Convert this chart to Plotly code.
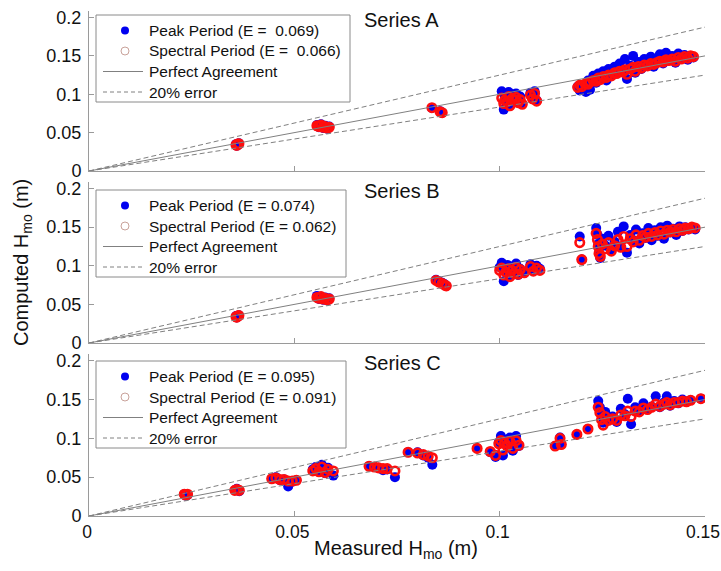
import plotly.graph_objects as go

# ---- Series A: measured vs computed significant wave height (m) ----
a_measured = [0.0358, 0.0362, 0.0365, 0.0360,
              0.0555, 0.0560, 0.0565, 0.0570, 0.0575, 0.0580, 0.0585,
              0.0835, 0.0855, 0.0860,
              0.1005, 0.1010, 0.1012, 0.1018, 0.1022, 0.1025, 0.1030, 0.1035,
              0.1040, 0.1045, 0.1050, 0.1055, 0.1075, 0.1080, 0.1085, 0.1090,
              0.1190, 0.1195, 0.1200, 0.1210, 0.1215, 0.1220, 0.1228, 0.1235,
              0.1240, 0.1245, 0.1252, 0.1260, 0.1265, 0.1272, 0.1280, 0.1285,
              0.1292, 0.1300, 0.1305, 0.1310, 0.1318, 0.1325, 0.1330, 0.1338,
              0.1345, 0.1352, 0.1360, 0.1368, 0.1375, 0.1382, 0.1390, 0.1398,
              0.1405, 0.1412, 0.1420, 0.1428, 0.1435, 0.1442, 0.1450, 0.1458,
              0.1465, 0.1472]
a_peak = [0.035, 0.034, 0.036, 0.033,
          0.060, 0.057, 0.061, 0.056, 0.059, 0.055, 0.058,
          0.082, 0.078, 0.076,
          0.104, 0.080, 0.098, 0.092, 0.103, 0.086, 0.100, 0.095,
          0.101, 0.090, 0.097, 0.088, 0.102, 0.095, 0.104, 0.092,
          0.110, 0.105, 0.112, 0.103, 0.118, 0.106, 0.124, 0.115,
          0.127, 0.121, 0.130, 0.118, 0.133, 0.125, 0.136, 0.128,
          0.140, 0.131, 0.146, 0.120, 0.137, 0.150, 0.128, 0.142,
          0.133, 0.146, 0.138, 0.149, 0.136, 0.145, 0.152, 0.140,
          0.154, 0.144, 0.150, 0.141, 0.153, 0.147, 0.151, 0.145,
          0.150, 0.148]
a_spectral = [0.034, 0.035, 0.0355, 0.0335,
              0.059, 0.058, 0.060, 0.057, 0.058, 0.056, 0.057,
              0.0825, 0.077, 0.076,
              0.095, 0.088, 0.092, 0.090, 0.097, 0.085, 0.094, 0.093,
              0.096, 0.089, 0.093, 0.087, 0.099, 0.094, 0.101, 0.091,
              0.109, 0.112, 0.110, 0.114, 0.113, 0.116, 0.118, 0.117,
              0.121, 0.119, 0.123, 0.122, 0.125, 0.124, 0.128, 0.127,
              0.130, 0.129, 0.132, 0.126, 0.133, 0.135, 0.130, 0.136,
              0.134, 0.138, 0.137, 0.140, 0.139, 0.141, 0.143, 0.142,
              0.145, 0.144, 0.146, 0.143, 0.148, 0.146, 0.149, 0.147,
              0.150, 0.149]

# ---- Series B ----
b_measured = [0.0358, 0.0362, 0.0365, 0.0360,
              0.0555, 0.0560, 0.0565, 0.0570, 0.0575, 0.0580, 0.0585,
              0.0845, 0.0852, 0.0860, 0.0866, 0.0870,
              0.1000, 0.1005, 0.1010, 0.1015, 0.1020, 0.1025, 0.1030, 0.1035,
              0.1040, 0.1045, 0.1050, 0.1060, 0.1075, 0.1082, 0.1090, 0.1098,
              0.1195, 0.1200, 0.1235, 0.1238, 0.1240, 0.1242, 0.1245, 0.1250,
              0.1258, 0.1265, 0.1272, 0.1280, 0.1288, 0.1295, 0.1302, 0.1310,
              0.1318, 0.1325, 0.1332, 0.1340, 0.1348, 0.1355, 0.1362, 0.1370,
              0.1378, 0.1385, 0.1392, 0.1400, 0.1408, 0.1415, 0.1422, 0.1430,
              0.1438, 0.1445, 0.1452, 0.1460, 0.1468, 0.1476]
b_peak = [0.035, 0.034, 0.036, 0.033,
          0.061, 0.057, 0.060, 0.056, 0.059, 0.055, 0.058,
          0.082, 0.080, 0.078, 0.076, 0.074,
          0.098, 0.104, 0.080, 0.093, 0.101, 0.087, 0.097, 0.091,
          0.103, 0.088, 0.096, 0.092, 0.102, 0.094, 0.100, 0.096,
          0.138, 0.108, 0.149, 0.140, 0.128, 0.117, 0.110, 0.135,
          0.126, 0.139, 0.121, 0.131, 0.144, 0.124, 0.151, 0.117,
          0.140, 0.133, 0.147, 0.129, 0.142, 0.136, 0.149, 0.133,
          0.146, 0.139, 0.150, 0.135, 0.152, 0.143, 0.148, 0.140,
          0.151, 0.145, 0.150, 0.147, 0.149, 0.147]
b_spectral = [0.034, 0.035, 0.0355, 0.0335,
              0.059, 0.058, 0.060, 0.057, 0.058, 0.056, 0.057,
              0.081, 0.079, 0.077, 0.075, 0.074,
              0.094, 0.097, 0.088, 0.092, 0.096, 0.086, 0.094, 0.090,
              0.098, 0.089, 0.095, 0.091, 0.099, 0.093, 0.097, 0.094,
              0.130, 0.108, 0.142, 0.134, 0.125, 0.116, 0.112, 0.128,
              0.122, 0.130, 0.119, 0.126, 0.134, 0.124, 0.138, 0.125,
              0.135, 0.131, 0.140, 0.133, 0.139, 0.137, 0.142, 0.138,
              0.143, 0.140, 0.145, 0.141, 0.146, 0.144, 0.147, 0.144,
              0.148, 0.146, 0.149, 0.148, 0.150, 0.149]

# ---- Series C ----
c_measured = [0.0232, 0.0236, 0.0240,
              0.0355, 0.0360, 0.0366,
              0.0445, 0.0455, 0.0465, 0.0475, 0.0485, 0.0495, 0.0505,
              0.0545, 0.0552, 0.0560, 0.0567, 0.0575, 0.0582, 0.0595,
              0.0682, 0.0695, 0.0705, 0.0716, 0.0726, 0.0745,
              0.0777, 0.0800, 0.0814, 0.0826, 0.0836,
              0.0945, 0.0977, 0.0990,
              0.0998, 0.1003, 0.1008, 0.1012, 0.1018, 0.1025, 0.1032, 0.1040, 0.1047,
              0.1135, 0.1147, 0.1150, 0.1188, 0.1215,
              0.1240, 0.1244, 0.1248, 0.1252, 0.1257, 0.1265, 0.1275, 0.1285,
              0.1295, 0.1305, 0.1312, 0.1320, 0.1330, 0.1340, 0.1350, 0.1360,
              0.1370, 0.1380, 0.1390, 0.1400, 0.1407, 0.1415, 0.1425, 0.1435,
              0.1445, 0.1455, 0.1465, 0.1490]
c_peak = [0.028, 0.026, 0.027,
          0.033, 0.035, 0.032,
          0.048, 0.050, 0.046, 0.047, 0.038, 0.044, 0.046,
          0.060, 0.063, 0.058, 0.066, 0.055, 0.062, 0.052,
          0.064, 0.063, 0.062, 0.059, 0.060, 0.050,
          0.082, 0.082, 0.078, 0.075, 0.066,
          0.087, 0.082, 0.076,
          0.095, 0.103, 0.078, 0.098, 0.090, 0.101, 0.084, 0.103, 0.090,
          0.090, 0.101, 0.092, 0.105, 0.112,
          0.148, 0.140, 0.130, 0.120, 0.134, 0.125, 0.128, 0.121,
          0.138, 0.131, 0.151, 0.118, 0.140, 0.135, 0.145, 0.137,
          0.141, 0.154, 0.140, 0.146, 0.154, 0.142, 0.148, 0.145,
          0.150, 0.147, 0.149, 0.151]
c_spectral = [0.028, 0.027, 0.028,
              0.033, 0.034, 0.033,
              0.048, 0.049, 0.047, 0.047, 0.045, 0.045, 0.046,
              0.058, 0.061, 0.057, 0.063, 0.056, 0.060, 0.058,
              0.064, 0.063, 0.062, 0.061, 0.061, 0.058,
              0.082, 0.081, 0.079, 0.077, 0.075,
              0.087, 0.083, 0.078,
              0.093, 0.097, 0.085, 0.094, 0.090, 0.096, 0.087, 0.097, 0.091,
              0.090, 0.100, 0.092, 0.105, 0.112,
              0.140, 0.133, 0.124, 0.117, 0.128, 0.123, 0.125, 0.123,
              0.130, 0.129, 0.135, 0.128, 0.135, 0.134, 0.139, 0.137,
              0.140, 0.144, 0.141, 0.144, 0.146, 0.143, 0.146, 0.146,
              0.148, 0.147, 0.149, 0.151]

panel_names = ["Series A", "Series B", "Series C"]
peak_labels = ["Peak Period (E =  0.069)", "Peak Period (E = 0.074)", "Peak Period (E = 0.095)"]
spectral_labels = ["Spectral Period (E =  0.066)", "Spectral Period (E = 0.062)",
                   "Spectral Period (E = 0.091)"]
line_labels = ["Perfect Agreement", "20% error"]

x_ticks = [0, 0.05, 0.1, 0.15]
x_ticktext = ["0", "0.05", "0.1", "0.15"]
y_ticks = [0, 0.05, 0.1, 0.15, 0.2]
y_ticktext = ["0", "0.05", "0.1", "0.15", "0.2"]
line_x = [0, 0.15]
error_frac = 0.2

panels = [(a_measured, a_peak, a_spectral),
          (b_measured, b_peak, b_spectral),
          (c_measured, c_peak, c_spectral)]

FONT = "Liberation Sans, Arial, sans-serif"
BLUE = "#0000f0"
RED = "#ff0d0d"
GREY_LINE = "#808080"
AXIS_GREY = "#9a9a9a"
TEXT = "#111111"

W, H = 721, 571
M_L, M_R, M_T, M_B = 89, 16, 11, 55
plot_w = W - M_L - M_R
plot_h = H - M_T - M_B
# panel pixel extents (top, bottom) in page coords
panel_px = [(11, 171), (182, 343), (354, 516)]
# legend box placement (left, top, right) in page pixels
legend_box = [(96, 15, 350), (96, 190, 346), (96, 361, 346)]
LEG_H, ROW0, ROW_STEP = 87, 15.5, 20.5


def px(pix):
    return (pix - M_L) / plot_w


def py(pix):
    return (H - M_B - pix) / plot_h


fig = go.Figure()
shapes, annotations = [], []

for i, (mx, pk, sp) in enumerate(panels):
    n = "" if i == 0 else str(i + 1)
    xa, ya = "x" + n, "y" + n

    fig.add_trace(go.Scatter(x=mx, y=pk, mode="markers", xaxis=xa, yaxis=ya,
                             name=peak_labels[i],
                             marker=dict(color=BLUE, size=10, line=dict(width=0))))
    fig.add_trace(go.Scatter(x=mx, y=sp, mode="markers", xaxis=xa, yaxis=ya,
                             name=spectral_labels[i],
                             marker=dict(symbol="circle-open", color=RED, size=8.5,
                                         line=dict(width=2.6))))
    fig.add_trace(go.Scatter(x=line_x, y=line_x, mode="lines", xaxis=xa, yaxis=ya,
                             line=dict(color=GREY_LINE, width=1), name=line_labels[0]))
    for sign in (-1, 1):
        fig.add_trace(go.Scatter(x=line_x, y=[v / (1 + sign * error_frac) for v in line_x],
                                 mode="lines", xaxis=xa, yaxis=ya, name=line_labels[1],
                                 line=dict(color=GREY_LINE, width=1, dash="5px,3px")))

    top, bot = panel_px[i]
    axis_common = dict(showline=True, linecolor=AXIS_GREY, linewidth=1, mirror=False,
                       ticks="inside", ticklen=5, tickcolor=AXIS_GREY, showgrid=False,
                       zeroline=False, ticklabeloverflow="allow", automargin=False)
    fig.update_layout({
        "xaxis" + n: dict(axis_common, domain=[0, 1], range=[0, 0.15], tickvals=x_ticks,
                          ticktext=x_ticktext, showticklabels=(i == 2), anchor=ya,
                          ticklabelshift=-2,
                          tickfont=dict(family=FONT, size=17.5, color=TEXT)),
        "yaxis" + n: dict(axis_common, domain=[py(bot), py(top)], range=[0, 0.2085],
                          tickvals=y_ticks, ticktext=y_ticktext,
                          anchor=xa, ticklabelstandoff=3,
                          tickfont=dict(family=FONT, size=18, color=TEXT)),
    })

    # legend box with marker and line samples
    lx0, ly0, lx1 = legend_box[i]
    shapes.append(dict(type="rect", xref="paper", yref="paper", layer="above",
                       x0=px(lx0), x1=px(lx1), y0=py(ly0), y1=py(ly0 + LEG_H),
                       fillcolor="white", line=dict(color="#8a8a8a", width=1)))
    rows = [ly0 + ROW0 + k * ROW_STEP for k in range(4)]
    shapes.append(dict(type="circle", xref="paper", yref="paper", layer="above",
                       xsizemode="pixel", ysizemode="pixel",
                       xanchor=px(125), yanchor=py(rows[0]), x0=-4, x1=4, y0=-4, y1=4,
                       fillcolor=BLUE, line=dict(width=0)))
    shapes.append(dict(type="circle", xref="paper", yref="paper", layer="above",
                       xsizemode="pixel", ysizemode="pixel",
                       xanchor=px(125), yanchor=py(rows[1]), x0=-4, x1=4, y0=-4, y1=4,
                       fillcolor="rgba(0,0,0,0)", line=dict(color="#c9a29a", width=1)))
    shapes.append(dict(type="line", xref="paper", yref="paper", layer="above",
                       x0=px(103), x1=px(143), y0=py(rows[2]), y1=py(rows[2]),
                       line=dict(color=GREY_LINE, width=1)))
    shapes.append(dict(type="line", xref="paper", yref="paper", layer="above",
                       x0=px(103), x1=px(143), y0=py(rows[3]), y1=py(rows[3]),
                       line=dict(color=GREY_LINE, width=1, dash="4px,3px")))
    for label, yrow in zip([peak_labels[i], spectral_labels[i]] + line_labels, rows):
        annotations.append(dict(text=label, xref="paper", yref="paper", x=px(147), y=py(yrow),
                                xanchor="left", yanchor="middle", showarrow=False,
                                font=dict(family=FONT, size=15.5, color=TEXT)))

    annotations.append(dict(text=panel_names[i], xref="paper", yref="paper",
                            x=px(362), y=py([20, 191, 363][i]),
                            xanchor="left", yanchor="middle", showarrow=False,
                            font=dict(family=FONT, size=20, color=TEXT)))

annotations.append(dict(text="Measured H<sub>mo</sub> (m)", xref="paper", yref="paper",
                        x=px(396), y=py(549), xanchor="center", yanchor="middle",
                        showarrow=False, font=dict(family=FONT, size=20, color=TEXT)))
annotations.append(dict(text="Computed H<sub>mo</sub> (m)", xref="paper", yref="paper",
                        x=px(22), y=py(263), xanchor="center", yanchor="middle",
                        showarrow=False, textangle=-90,
                        font=dict(family=FONT, size=20, color=TEXT)))

fig.update_layout(width=W, height=H, margin=dict(l=M_L, r=M_R, t=M_T, b=M_B,
                                                 autoexpand=False),
                  paper_bgcolor="white", plot_bgcolor="white", showlegend=False,
                  shapes=shapes, annotations=annotations)

fig.write_html("out.html")
